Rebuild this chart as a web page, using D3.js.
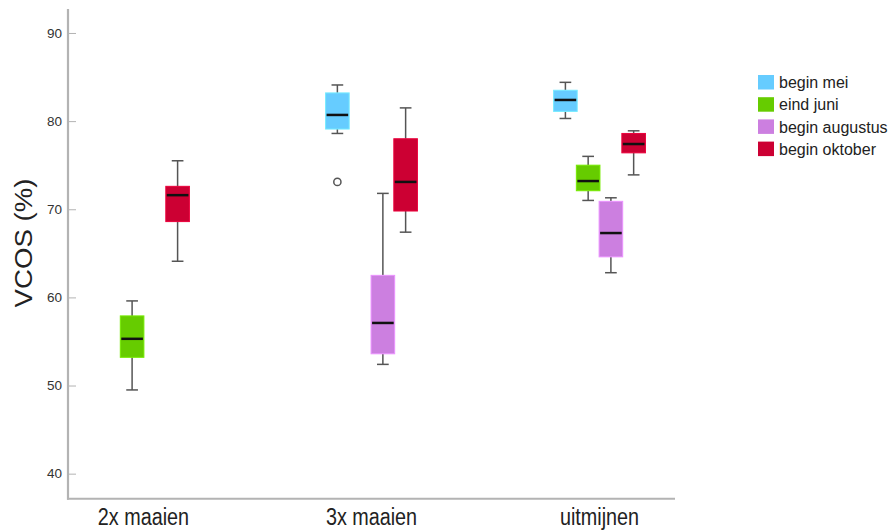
<!DOCTYPE html>
<html>
<head>
<meta charset="utf-8">
<script src="https://cdn.jsdelivr.net/npm/d3@7"></script>
<style>
  html, body { margin: 0; padding: 0; background: #fff; }
  svg { display: block; }
</style>
</head>
<body>
<svg id="chart" width="893" height="532"></svg>
<script>
// ---- data ----
const groups = ["2x maaien", "3x maaien", "uitmijnen"];
const seriesNames = ["begin mei", "eind juni", "begin augustus", "begin oktober"];
const seriesColors = ["#66ccff", "#66cc00", "#cc7fe0", "#cc0033"];
const yTicks = [40, 50, 60, 70, 80, 90];
// each entry: [whisker low, Q1, median, Q3, whisker high] per group; null = no box
const beginMei      = [null, [78.6, 79.1, 80.7, 83.2, 84.1], [80.3, 81.1, 82.4, 83.5, 84.4]];
const eindJuni      = [[49.5, 53.2, 55.3, 57.9, 59.6], null, [71.0, 72.1, 73.2, 75.0, 76.0]];
const beginAugustus = [null, [52.4, 53.6, 57.1, 62.5, 71.8], [62.8, 64.6, 67.3, 70.9, 71.3]];
const beginOktober  = [[64.1, 68.6, 71.6, 72.6, 75.5], [67.4, 69.8, 73.1, 78.0, 81.5], [73.9, 76.4, 77.4, 78.6, 78.9]];
const outlierGroups = ["3x maaien"];
const outlierSeries = ["begin mei"];
const outlierValues = [73.1];

const seriesData = [beginMei, eindJuni, beginAugustus, beginOktober];

(function () {
// ---- layout ----
const svg = d3.select("#chart");
const pLeft = 68, pRight = 675, pTop = 9, pBottom = 498.7;

const y = d3.scaleLinear().domain([37.16, 92.72]).range([pBottom, pTop]);
const x = d3.scalePoint().domain(groups).range([pLeft, pRight]).padding(0.331);
const sub = d3.scaleBand().domain(seriesNames).range([-45.5, 45.5]).padding(0);
const boxW = 23.6, capW = 11.7;

// axes
const yAxis = d3.axisLeft(y).tickValues(yTicks).tickSize(-8).tickPadding(14).tickFormat(d3.format("d"));
const gy = svg.append("g").attr("transform", `translate(${pLeft},0)`).call(yAxis);
gy.select(".domain").remove();
gy.selectAll(".tick line").attr("stroke", "#b3b3b3").attr("stroke-width", 1);
gy.selectAll(".tick text").attr("fill", "#333").attr("font-family", "Liberation Sans, Arial, sans-serif")
  .attr("font-size", 13.5).attr("x", -6);

svg.append("line").attr("x1", pLeft).attr("x2", pLeft).attr("y1", pTop).attr("y2", pBottom + 1)
  .attr("stroke", "#b3b3b3").attr("stroke-width", 2.2);
svg.append("line").attr("x1", pLeft - 1).attr("x2", pRight).attr("y1", pBottom).attr("y2", pBottom)
  .attr("stroke", "#b3b3b3").attr("stroke-width", 2);

// x labels
svg.append("g").selectAll("text").data(groups).join("text")
  .attr("transform", d => `translate(${x(d)},525) scale(0.86,1)`)
  .attr("text-anchor", "middle")
  .attr("font-family", "Liberation Sans, Arial, sans-serif")
  .attr("font-size", 23).attr("fill", "#222")
  .text(d => d);

// y label
svg.append("text")
  .attr("transform", "translate(32,243) rotate(-90) scale(1.15,1)")
  .attr("text-anchor", "middle")
  .attr("font-family", "Liberation Sans, Arial, sans-serif")
  .attr("font-size", 24).attr("fill", "#222")
  .text("VCOS (%)");

// boxes
const boxes = [];
seriesData.forEach((arr, si) => {
  arr.forEach((s, gi) => {
    if (s) boxes.push({ g: groups[gi], s: seriesNames[si], color: seriesColors[si], v: s });
  });
});
const cx = d => x(d.g) + sub(d.s) + sub.bandwidth() / 2;

const bg = svg.append("g").selectAll("g").data(boxes).join("g");
// whiskers
bg.append("line").attr("x1", cx).attr("x2", cx).attr("y1", d => y(d.v[0])).attr("y2", d => y(d.v[1]))
  .attr("stroke", "#555").attr("stroke-width", 1.5);
bg.append("line").attr("x1", cx).attr("x2", cx).attr("y1", d => y(d.v[3])).attr("y2", d => y(d.v[4]))
  .attr("stroke", "#555").attr("stroke-width", 1.5);
bg.append("line").attr("x1", d => cx(d) - capW / 2).attr("x2", d => cx(d) + capW / 2)
  .attr("y1", d => y(d.v[0])).attr("y2", d => y(d.v[0])).attr("stroke", "#555").attr("stroke-width", 1.5);
bg.append("line").attr("x1", d => cx(d) - capW / 2).attr("x2", d => cx(d) + capW / 2)
  .attr("y1", d => y(d.v[4])).attr("y2", d => y(d.v[4])).attr("stroke", "#555").attr("stroke-width", 1.5);
// box
bg.append("rect").attr("x", d => cx(d) - boxW / 2).attr("width", boxW)
  .attr("y", d => y(d.v[3])).attr("height", d => y(d.v[1]) - y(d.v[3]))
  .attr("fill", d => d.color)
  .attr("stroke", d => d3.color(d.color).brighter(0.4)).attr("stroke-width", 1);
// median
bg.append("line").attr("x1", d => cx(d) - boxW / 2 + 1).attr("x2", d => cx(d) + boxW / 2 - 1)
  .attr("y1", d => y(d.v[2])).attr("y2", d => y(d.v[2]))
  .attr("stroke", "#111").attr("stroke-width", 2.5);

// outliers
svg.append("g").selectAll("circle").data(outlierValues.map((v, i) => ({ g: outlierGroups[i], s: outlierSeries[i], v })))
  .join("circle")
  .attr("cx", cx).attr("cy", d => y(d.v)).attr("r", 3.6)
  .attr("fill", "#fff").attr("stroke", "#555").attr("stroke-width", 1.5);

// legend
const lg = svg.append("g").attr("transform", "translate(758,75)");
const li = lg.selectAll("g").data(seriesNames).join("g").attr("transform", (d, i) => `translate(0,${i * 22.2})`);
li.append("rect").attr("width", 16).attr("height", 14.5).attr("fill", (d, i) => seriesColors[i]);
li.append("text").attr("x", 21).attr("y", 7.5).attr("dy", "0.35em")
  .attr("font-family", "Liberation Sans, Arial, sans-serif").attr("font-size", 16).attr("fill", "#222")
  .text(d => d);
})();
</script>
</body>
</html>
